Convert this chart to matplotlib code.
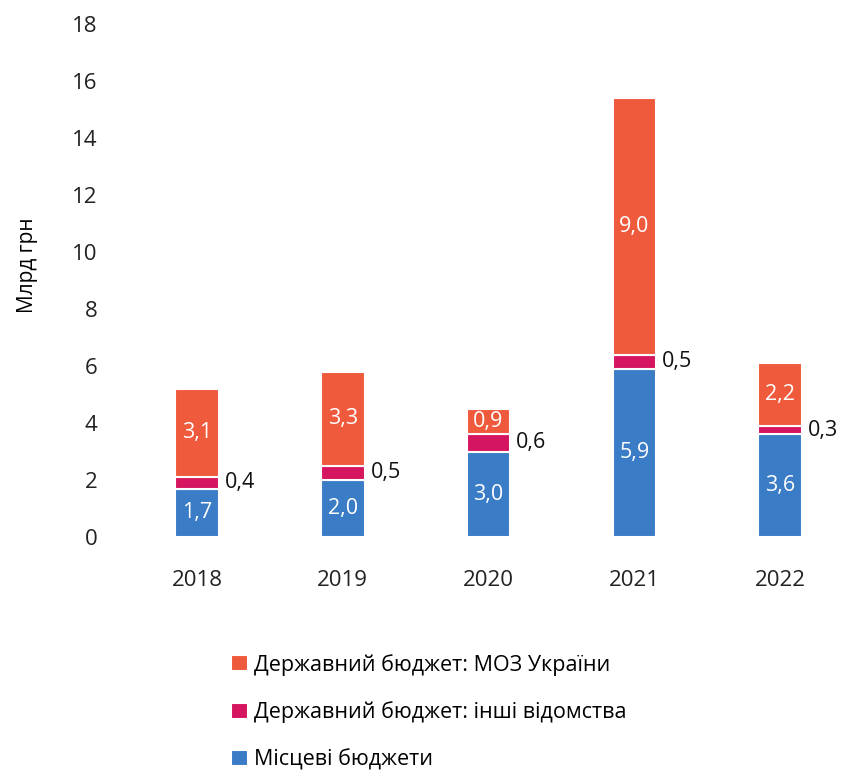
import matplotlib.pyplot as plt
import numpy as np

years = ["2018", "2019", "2020", "2021", "2022"]
local = [1.7, 2.0, 3.0, 5.9, 3.6]
other = [0.4, 0.5, 0.6, 0.5, 0.3]
moz = [3.1, 3.3, 0.9, 9.0, 2.2]
yticks = [0, 2, 4, 6, 8, 10, 12, 14, 16, 18]

names = ["Державний бюджет: МОЗ України",
         "Державний бюджет: інші відомства",
         "Місцеві бюджети"]
c_moz = "#F05A3C"
c_other = "#D5155F"
c_local = "#3A7CC6"

plt.rcParams['font.family'] = ['Open Sans', 'DejaVu Sans']

fig = plt.figure(figsize=(8.45, 7.71), dpi=100)
ax = fig.add_axes([110 / 845, (771 - 537) / 771, 730 / 845, (537 - 24) / 771])

x = np.arange(len(years))
w = 0.3
local = np.array(local)
other = np.array(other)
moz = np.array(moz)

b1 = ax.bar(x, local, w, color=c_local, edgecolor="white", linewidth=1.5)
b2 = ax.bar(x, other, w, bottom=local, color=c_other, edgecolor="white", linewidth=1.5)
b3 = ax.bar(x, moz, w, bottom=local + other, color=c_moz, edgecolor="white", linewidth=1.5)

fmt = lambda v: f"{v:.1f}".replace(".", ",")
for i in range(len(years)):
    ax.text(x[i], local[i] / 2, fmt(local[i]), ha="center", va="center",
            color="white", fontsize=15.5)
    ax.text(x[i] + w / 2 + 0.04, local[i] + other[i] / 2, fmt(other[i]),
            ha="left", va="center", color="#111111", fontsize=15.5)
    ax.text(x[i], local[i] + other[i] + moz[i] / 2, fmt(moz[i]), ha="center",
            va="center", color="white", fontsize=15.5)

ax.set_xlim(-0.596, 4.41)
ax.set_ylim(0, 18)
ax.set_yticks(yticks)
ax.set_xticks(x)
ax.set_xticklabels(years)
ax.tick_params(length=0, labelsize=16, colors="#222222")
ax.tick_params(axis="y", pad=9)
ax.tick_params(axis="x", pad=24)
for s in ax.spines.values():
    s.set_visible(False)
ax.set_ylabel("Млрд грн", fontsize=15)
ax.yaxis.set_label_coords(-0.098, (537 - 265) / 513)

fig.legend([b3, b2, b1], names, loc="upper left", bbox_to_anchor=(220 / 845, 1 - 643 / 771),
           frameon=False, fontsize=15.5, handlelength=0.8, handleheight=0.8,
           handletextpad=0.3, labelspacing=1.2, borderpad=0)

fig.savefig("out.png", dpi=100)
